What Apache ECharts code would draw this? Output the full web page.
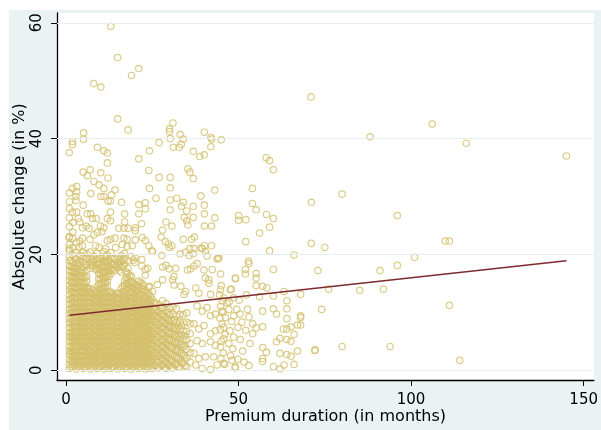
<!DOCTYPE html>
<html><head><meta charset="utf-8">
<script src="https://cdn.jsdelivr.net/npm/echarts@6/dist/echarts.min.js"></script>
<style>html,body{margin:0;padding:0;background:#fff}#c{width:601px;height:430px}</style>
</head><body><div id="c"></div>
<script>
// Tick labels
const xTicks = [0, 50, 100, 150];
const yTicks = [0, 20, 40, 60];
// Dense mass: premium duration (months) and absolute changes read column by column
const denseMonths = [1,2,3,4,5,6,7,8,9,10,11,12,13,14,15,16,17,18,19,20,21,22,23,24,25,26,27,28,29,30,31,32,33,34,35,36];
const denseChanges = [
 [0.3,1.0,1.8,2.7,3.3,4.1,5.0,5.8,6.4,7.3,8.2,8.9,9.8,10.5,11.4,12.2,13.0,13.9,14.6,15.5,16.3,17.2,18.0,18.9,19.5,20.6,21.7,23.1,24.8,26.3,27.9,29.1,30.6],
 [0.6,1.4,2.2,3.0,3.8,4.6,5.3,6.1,7.0,7.7,8.5,9.3,10.1,11.0,11.8,12.6,13.5,14.4,15.2,16.0,16.9,17.7,18.6,19.9,21.2,23.8,25.5],
 [0.2,1.1,1.9,2.6,3.5,4.3,5.1,5.9,6.7,7.4,8.3,9.0,9.9,10.7,11.5,12.3,13.2,14.1,15.0,15.8,16.6,17.5,18.4,19.2,20.4,22.0],
 [0.5,1.3,2.3,3.1,3.9,4.7,5.5,6.3,7.1,7.9,8.7,9.5,10.3,11.1,11.9,12.8,13.7,14.5,15.3,16.4,17.1,18.2,19.0,19.8,22.3],
 [0.3,1.0,1.7,2.5,3.4,4.2,5.0,5.8,6.6,7.5,8.3,9.1,9.9,10.8,11.6,12.4,13.3,14.2,15.1,15.9,16.8,17.8,18.7,19.6,20.3],
 [0.6,1.4,2.1,2.9,3.7,4.5,5.4,6.2,7.0,7.8,8.6,9.4,10.2,11.0,11.8,12.7,13.6,14.3,15.4,16.2,17.3,18.1,19.3,20.1],
 [0.2,1.0,1.8,2.6,3.4,4.3,5.1,5.9,6.7,7.6,8.4,9.2,10.0,10.8,11.7,12.5,13.4,14.1,17.6,18.6,19.4,20.4],
 [0.5,1.3,2.1,2.9,3.8,4.6,5.4,6.2,7.1,7.9,8.7,9.6,10.4,11.2,12.0,12.9,13.8,17.9,18.8,19.7],
 [0.3,1.1,1.9,2.7,3.6,4.4,5.2,6.0,6.8,7.7,8.5,9.3,10.1,11.0,11.8,12.6,13.5,14.4,17.3,18.2,19.1,20.2],
 [0.6,1.4,2.3,3.1,3.9,4.7,5.6,6.4,7.2,8.0,8.9,9.7,10.5,11.3,12.2,13.0,13.9,14.8,15.7,16.5,17.4,18.4,19.3],
 [0.2,1.0,1.8,2.6,3.5,4.3,5.1,5.9,6.8,7.6,8.4,9.2,10.1,10.9,11.7,12.5,13.4,14.3,15.1,16.0,16.9,17.8,18.7,19.6,20.5],
 [0.4,1.2,2.0,2.8,3.7,4.5,5.3,6.1,6.9,7.8,8.6,9.4,10.3,11.1,11.9,12.8,13.6,14.5,15.4,16.3,17.2,18.1,19.0,19.9],
 [0.3,1.1,1.9,2.7,3.5,4.3,5.2,6.0,6.8,7.6,8.5,9.3,10.1,10.9,11.8,12.6,13.5,16.7,17.6,18.5,19.5,20.3],
 [0.5,1.3,2.2,3.0,3.8,4.6,5.4,6.3,7.1,7.9,8.7,9.6,10.4,11.2,12.1,12.9,17.2,18.2,19.2],
 [0.2,1.0,1.8,2.6,3.4,4.2,5.1,5.9,6.7,7.5,8.3,9.2,10.0,10.8,11.6,12.4,13.3,17.7,18.6,19.4],
 [0.6,1.4,2.2,3.0,3.9,4.7,5.5,6.3,7.2,8.0,8.8,9.6,10.5,11.3,12.1,13.0,14.1,16.9,17.8,18.8,19.8],
 [0.3,1.1,1.9,2.8,3.6,4.4,5.2,6.1,6.9,7.7,8.5,9.4,10.2,11.0,11.9,12.7,13.6,14.6,15.5,18.3,19.3,20.2],
 [0.5,1.3,2.1,2.9,3.7,4.6,5.4,6.2,7.0,7.9,8.7,9.5,10.3,11.2,12.0,12.9,13.9,14.9,15.8,16.7,17.6,18.9],
 [0.2,1.0,1.9,2.7,3.5,4.3,5.1,6.0,6.8,7.6,8.4,9.3,10.1,10.9,11.8,12.6,13.6,14.4,15.3,16.2,19.6],
 [0.6,1.4,2.2,3.0,3.9,4.7,5.5,6.4,7.2,8.0,8.8,9.7,10.5,11.3,12.2,13.1,14.0,14.8,18.6,19.4],
 [0.3,1.1,1.9,2.7,3.6,4.4,5.2,6.0,6.9,7.7,8.5,9.3,10.2,11.0,11.9,12.8,13.7,14.6,15.4],
 [0.5,1.3,2.1,3.0,3.8,4.6,5.4,6.2,7.1,7.9,8.8,9.6,10.4,11.3,12.1,13.0,14.1,15.0,18.0,19.1],
 [0.2,1.1,1.9,2.7,3.5,4.4,5.2,6.0,6.9,7.7,8.5,9.4,10.2,11.0,11.8,12.9,13.8,16.4,17.4],
 [0.4,1.3,2.1,2.9,3.8,4.6,5.4,6.3,7.1,7.9,8.8,9.6,10.4,11.3,12.1,13.2,14.3],
 [0.3,1.4,2.5,3.5,4.6,5.7,6.7,7.8,8.9,9.9,11.0,12.2],
 [0.8,1.9,3.0,4.0,5.1,6.2,7.3,8.3,9.4,10.5,11.6],
 [0.4,1.5,2.6,3.7,4.8,5.8,6.9,8.0,9.1,10.2,11.3],
 [0.9,2.0,3.1,4.2,5.3,6.4,7.5,8.6,9.7,10.8,12.0],
 [0.3,1.4,2.5,3.6,4.7,5.8,6.9,8.0,9.1,10.3,11.5],
 [0.8,1.9,3.0,4.1,5.2,6.3,7.4,8.5,9.6,10.7],
 [0.4,1.6,2.7,3.9,5.0,6.2,7.3,8.5,9.7,11.0],
 [1.0,2.2,3.4,4.6,5.8,7.0,8.2,9.4,10.6],
 [0.5,1.8,3.1,4.4,5.7,7.0,8.3,9.6],
 [1.2,2.6,4.0,5.4,6.8,8.2,9.6],
 [0.6,2.1,3.6,5.2,6.7,8.3,9.9],
 [1.4,3.0,4.6,6.3,8.0]
];
// Points lying between the month columns
const halfMonths = [1.5,2.5,3.5,4.5,5.5,6.5,7.5,8.5,9.5,10.5,11.5,12.5,13.5,14.5,15.5,16.5,17.5,18.5,19.5,20.5,21.5,22.5,23.5,24.5,25.5,26.5,27.5,28.5,29.5,30.5,31.5,32.5,33.5,34.5];
const halfChanges = [
 [0.6,1.5,2.4,3.2,4.0,4.9,5.7,6.5,7.4,8.2,9.0,9.9,10.7,11.6,12.4,13.4,14.2,15.1,16.0,17.0,17.9,19.0],
 [0.8,1.6,2.5,3.3,4.1,5.0,5.8,6.6,7.5,8.3,9.2,10.0,10.8,11.7,12.5,13.4,14.3,15.2,16.2,17.1,18.0],
 [0.7,1.5,2.4,3.2,4.1,4.9,5.7,6.6,7.4,8.3,9.1,9.9,10.8,11.6,12.5,13.3,14.2,15.2,16.1,17.0,18.6],
 [0.8,1.7,2.5,3.4,4.2,5.0,5.9,6.7,7.6,8.4,9.2,10.1,10.9,11.8,12.6,13.5,14.4,15.3,16.3,17.4],
 [0.6,1.5,2.3,3.2,4.0,4.8,5.7,6.5,7.3,8.2,9.0,9.8,10.7,11.5,12.4,13.2,14.1,15.0,16.1,18.3],
 [0.9,1.7,2.6,3.4,4.2,5.1,5.9,6.7,7.6,8.4,9.2,10.1,10.9,11.7,12.6,13.4,14.0],
 [0.7,1.5,2.4,3.2,4.0,4.9,5.7,6.5,7.4,8.2,9.0,9.9,10.7,11.5,12.4,13.2,18.2,19.1],
 [0.8,1.6,2.5,3.3,4.1,5.0,5.8,6.7,7.5,8.3,9.2,10.0,10.8,11.7,12.5,13.3,17.5],
 [0.6,1.4,2.3,3.1,4.0,4.8,5.6,6.5,7.3,8.1,9.0,9.8,10.6,11.5,12.3,13.1,14.0,14.9,15.8,16.7,17.7,18.7],
 [0.8,1.7,2.5,3.3,4.2,5.0,5.8,6.7,7.5,8.4,9.2,10.0,10.9,11.7,12.5,13.4,14.2,15.2,16.1,17.1,18.0,19.0],
 [0.7,1.5,2.4,3.2,4.1,4.9,5.7,6.6,7.4,8.2,9.1,9.9,10.7,11.6,12.4,13.2,14.1,15.0,15.9,16.8,17.7,18.6,19.5],
 [0.9,1.7,2.5,3.4,4.2,5.1,5.9,6.7,7.6,8.4,9.2,10.1,10.9,11.8,12.6,13.4,16.2,17.1,18.0,19.0],
 [0.6,1.5,2.3,3.1,4.0,4.8,5.6,6.5,7.3,8.2,9.0,9.8,10.7,11.5,12.3,13.2,17.4,18.3],
 [0.8,1.6,2.5,3.3,4.1,5.0,5.8,6.6,7.5,8.3,9.1,10.0,10.8,11.6,12.5,13.3,17.9],
 [0.7,1.5,2.3,3.2,4.0,4.9,5.7,6.5,7.4,8.2,9.0,9.9,10.7,11.5,12.4,13.3,17.2,18.2,19.1],
 [0.9,1.7,2.6,3.4,4.2,5.1,5.9,6.7,7.6,8.4,9.3,10.1,10.9,11.8,12.6,13.5,14.5,18.0,19.0],
 [0.6,1.4,2.3,3.1,3.9,4.8,5.6,6.4,7.3,8.1,9.0,9.8,10.6,11.5,12.3,13.2,14.1,15.0,16.0,17.0],
 [0.8,1.6,2.5,3.3,4.2,5.0,5.8,6.7,7.5,8.3,9.2,10.0,10.8,11.7,12.5,13.4,14.4,15.3,16.3],
 [0.7,1.5,2.4,3.2,4.0,4.9,5.7,6.5,7.4,8.2,9.1,9.9,10.7,11.6,12.4,13.2,14.1,15.0,19.0],
 [0.9,1.7,2.6,3.4,4.2,5.1,5.9,6.8,7.6,8.4,9.3,10.1,10.9,11.8,12.6,13.5,14.4],
 [0.6,1.4,2.3,3.1,3.9,4.8,5.6,6.4,7.3,8.1,9.0,9.8,10.6,11.5,12.3,13.2,14.2,15.2],
 [0.8,1.6,2.5,3.3,4.1,5.0,5.8,6.6,7.5,8.3,9.1,10.0,10.8,11.7,12.5,13.5,14.6],
 [0.7,1.5,2.3,3.2,4.0,4.8,5.7,6.5,7.3,8.2,9.0,9.9,10.7,11.5,12.4,13.3],
 [0.9,1.8,2.6,3.5,4.3,5.2,6.0,6.8,7.7,8.5,9.3,10.2,11.0,11.9,12.7],
 [0.9,2.0,3.0,4.1,5.2,6.2,7.3,8.4,9.4,10.5,11.6],
 [0.4,1.4,2.5,3.6,4.6,5.7,6.8,7.8,8.9,10.0],
 [0.9,2.0,3.1,4.2,5.3,6.4,7.4,8.5,9.6,10.7],
 [0.5,1.6,2.7,3.8,4.9,6.0,7.1,8.2,9.3],
 [1.0,2.1,3.2,4.3,5.4,6.5,7.6,8.7,9.9],
 [0.4,1.6,2.8,4.0,5.2,6.4,7.6,8.8],
 [1.0,2.3,3.5,4.8,6.1,7.4,8.7],
 [0.6,2.0,3.4,4.8,6.2,7.6],
 [1.3,2.9,4.5,6.1,7.7],
 [0.8,2.5,4.2,5.9]
];
// Individually read points [duration, change]
const sparsePoints = [
 [13.0,59.4],[15.0,54.0],[21.1,52.1],[19.0,50.9],[8.05,49.5],[10.1,48.9],[15.0,43.4],[18.0,41.5],[5.1,41.0],
 [31.0,42.7],[30.0,41.7],[30.0,41.2],[33.1,40.7],[40.1,41.1],[42.0,40.2],[45.0,39.8],[71.0,47.2],[106.1,42.5],
 [88.1,40.3],[116.0,39.2],[145.0,37.0],[58.0,36.7],[59.0,36.2],[60.1,34.6],[54.0,31.4],[80.0,30.4],[71.1,29.0],
 [54.0,28.8],[55.1,27.7],[50.0,26.7],[50.0,25.9],[52.1,26.0],[58.1,26.9],[60.1,26.2],[59.0,24.7],[56.1,23.7],
 [96.0,26.7],[52.1,22.2],[71.1,21.9],[75.0,21.2],[109.9,22.3],[111.1,22.3],[59.0,20.6],[66.1,19.9],[101.0,19.5],
 [44.3,19.4],[52.9,18.8],
 [0.95,37.6],[1.9,39.0],[1.9,39.5],[5.1,39.9],[9.1,38.5],[11.0,37.9],[12.0,37.5],[12.0,35.8],[5.0,34.2],[6.2,33.6],
 [7.0,34.6],[10.1,34.1],[12.2,33.2],[8.1,32.6],[9.6,32.0],[11.0,31.4],[1.9,31.4],[3.1,31.7],[3.1,30.8],[2.9,30.0],
 [2.9,29.3],[7.2,30.5],[10.1,30.0],[11.0,30.0],[13.2,30.3],[14.2,31.1],[12.2,29.2],[12.9,29.2],[16.1,29.0],[5.0,28.5],
 [1.9,27.3],[3.1,27.3],[6.2,27.0],[7.2,27.0],[12.9,27.3],[17.0,27.0],[3.6,26.2],[4.0,25.6],[7.7,26.2],[8.8,26.2],
 [12.0,26.2],[12.9,25.8],[17.0,25.6],[4.8,24.6],[5.9,24.9],[6.7,24.5],[10.0,24.9],[11.0,24.6],[10.4,23.9],[15.3,24.5],
 [16.8,24.5],[18.0,24.5],[20.1,24.6],[20.1,24.1],[0.9,22.9],[1.9,22.8],[4.8,22.8],[7.0,22.6],[8.1,23.4],[9.1,23.8],
 [12.0,22.4],[12.9,22.6],[14.2,22.8],[16.8,22.8],[17.7,22.6],[20.1,22.5],[22.1,22.9],[24.9,20.6],[0.95,21.0],[3.8,21.2],
 [4.8,21.5],[8.6,21.5],[9.6,21.2],[11.5,21.0],[14.4,21.2],[16.3,21.7],[17.7,21.4],[19.2,21.5],[23.0,22.4],[24.0,21.5],
 [21.1,36.5],[24.2,37.9],[27.0,39.3],[30.2,40.0],[31.1,38.5],[32.8,38.5],[33.4,39.0],[34.0,39.9],[36.9,37.8],
 [40.1,37.2],[42.0,38.6],[42.2,39.9],[38.8,36.9],[24.0,34.5],[27.0,33.3],[30.2,33.3],[35.3,34.8],[35.9,34.2],[36.9,33.1],
 [24.2,31.4],[26.1,29.7],[30.2,31.5],[30.2,29.4],[30.2,27.7],[32.1,29.7],[34.0,29.0],[39.1,30.1],[40.1,28.5],[43.1,31.1],
 [21.1,28.6],[23.0,28.9],[23.0,27.9],[21.1,27.0],[33.5,28.3],[35.0,27.5],[36.9,28.3],[36.9,26.4],[40.1,27.0],[43.1,26.3],
 [34.3,26.4],[35.0,25.8],[35.3,25.1],[29.0,25.6],[28.0,24.2],[30.7,24.9],[40.1,24.9],[42.2,24.9],[21.9,25.3],[27.6,23.0],
 [28.8,22.2],[29.7,21.8],[30.7,21.5],[34.0,22.6],[36.4,22.6],[37.2,23.0],[39.1,21.1],[40.1,21.5],[42.2,21.5],[33.1,20.1],
 [35.9,21.0],[36.9,20.1],[44.1,19.3],[27.8,19.8],
 [25.1,20.5],[30.0,21.2],[34.7,20.4],[35.7,19.8],[37.1,21.0],[39.5,21.0],[40.4,20.5],[40.9,19.7],[43.8,19.2],[23.7,17.6],
 [28.0,17.8],[29.0,18.1],[29.9,17.5],[31.8,17.6],[31.3,16.2],[30.9,15.6],[31.3,14.7],[28.0,15.6],[26.5,14.8],[24.2,14.5],
 [25.1,13.6],[35.2,17.3],[36.1,17.5],[37.1,18.0],[38.0,18.4],[40.0,17.3],[42.4,17.4],[44.8,16.6],[40.4,15.9],[41.4,15.6],
 [41.4,15.0],[49.1,15.9],[33.3,14.5],[34.7,13.6],[34.2,13.1],[37.6,14.2],[38.5,13.3],[41.9,13.1],[44.8,13.9],[47.6,13.9],
 [45.7,12.5],[48.6,12.5],[46.7,11.6],
 [38.0,11.1],[39.5,10.2],[40.9,10.8],[41.9,9.4],[43.3,9.7],[45.2,10.2],[46.2,9.1],[47.2,10.5],[48.6,9.4],[49.5,10.5],
 [37.1,8.0],[38.5,7.1],[40.0,7.7],[41.9,6.3],[43.3,6.8],[45.7,7.4],[38.0,5.1],[39.5,4.6],[41.9,4.9],[43.3,4.3],
 [45.7,5.4],[47.2,4.6],[48.6,5.7],[37.1,2.9],[38.5,2.0],[40.4,2.3],[42.8,2.3],[43.8,0.9],[45.7,1.2],[48.1,1.7],
 [49.1,0.6],[37.6,0.9],[39.5,0.3],[41.9,0.1],
 [53.0,18.4],[52.0,17.4],[52.0,16.6],[55.1,16.7],[55.1,15.9],[60.1,17.4],[73.0,17.2],[91.0,17.2],[96.0,18.1],[49.1,15.8],
 [45.0,14.6],[47.9,14.0],[55.1,14.6],[57.0,14.5],[58.2,14.2],[63.2,13.6],[68.0,13.1],[76.1,14.0],[85.1,13.8],[92.0,14.0],
 [111.1,11.2],[74.1,10.5],[60.1,12.8],[56.1,12.7],[64.0,12.0],[60.1,10.6],[64.0,10.6],[57.0,10.2],[61.0,9.7],[64.0,8.9],
 [68.0,9.4],[68.0,9.1],[67.1,7.8],[68.0,7.8],[65.2,7.5],[64.0,7.1],[63.0,7.1],[66.1,6.2],[62.0,5.5],[61.0,4.9],
 [64.0,5.3],[65.2,5.0],[57.0,7.5],[54.1,8.0],[54.1,6.3],[55.1,7.3],[72.1,3.4],[72.2,3.5],[80.0,4.1],[93.9,4.1],
 [114.1,1.7],[57.0,3.9],[58.1,3.1],[57.0,2.0],[57.0,1.5],[62.0,2.9],[64.0,2.7],[65.2,2.4],[67.1,3.3],[60.1,0.6],
 [62.0,0.2],[63.2,0.9],[66.1,1.0],
 [44.5,13.0],[45.3,12.0],[44.8,11.0],[45.5,10.0],[44.6,9.0],[45.2,8.0],[44.7,7.0],[46.1,6.2],[45.0,5.0],[44.8,4.0],
 [45.6,3.0],[44.9,2.0],[46.0,1.0],[47.3,11.8],[48.0,8.4],[47.5,6.8],[48.3,3.7],[47.7,2.5],[50.2,12.1],[50.4,9.7],
 [51.0,8.3],[49.8,7.4],[50.5,5.3],[51.2,3.3],[49.8,1.9],[52.3,13.0],[52.6,10.5],[53.0,9.2],[52.1,6.9],[53.3,4.6],
 [51.6,1.4],[49.0,0.4],[53.0,0.8]
];
// Fitted line endpoints
const fitLine = [[1, 9.5], [145, 18.9]];

const scatterData = [];
denseMonths.forEach((m, i) => denseChanges[i].forEach(v => scatterData.push([m, v])));
halfMonths.forEach((m, i) => halfChanges[i].forEach(v => scatterData.push([m, v])));
sparsePoints.forEach(p => scatterData.push(p));

const FONT = 'DejaVu Sans';
const chart = echarts.init(document.getElementById('c'), null, {renderer: 'canvas'});
chart.setOption({
  animation: false,
  backgroundColor: '#ffffff',
  graphic: [{type: 'rect', z: -100, silent: true, shape: {x: 9, y: 10, width: 592, height: 420}, style: {fill: '#eaf2f3'}}],
  grid: {left: 57, top: 13, right: 3, bottom: 43, show: true, backgroundColor: '#ffffff', borderWidth: 0},
  xAxis: {
    type: 'value', min: -2.59, max: 152.96,
    axisLine: {onZero: false, lineStyle: {color: '#000', width: 1.3}},
    axisTick: {customValues: xTicks, length: 6, lineStyle: {color: '#000', width: 1}},
    axisLabel: {customValues: xTicks, fontSize: 15, color: '#000', fontFamily: FONT, margin: 13},
    splitLine: {show: false},
    name: 'Premium duration (in months)', nameLocation: 'middle', nameGap: 29, nameMoveOverlap: false,
    nameTextStyle: {fontSize: 16, color: '#000', fontFamily: FONT}
  },
  yAxis: {
    type: 'value', min: -1.695, max: 61.69,
    axisLine: {onZero: false, lineStyle: {color: '#000', width: 1.3}},
    axisTick: {customValues: yTicks, length: 6, lineStyle: {color: '#000', width: 1}},
    axisLabel: {customValues: yTicks, rotate: 90, fontSize: 15, color: '#000', fontFamily: FONT, margin: 12},
    splitLine: {show: false},
    name: 'Absolute change (in %)', nameLocation: 'middle', nameGap: 29, nameMoveOverlap: false,
    nameTextStyle: {fontSize: 16, color: '#000', fontFamily: FONT}
  },
  series: [
    {type: 'line', data: [], z: 1, silent: true,
     markLine: {silent: true, symbol: ['none', 'none'], label: {show: false},
       lineStyle: {color: '#e6eeef', type: 'solid', width: 1.2},
       data: yTicks.map(v => ({yAxis: v}))}},
    {type: 'scatter', data: scatterData, z: 3, symbol: 'circle', symbolSize: 6.4, silent: true,
     itemStyle: {color: 'rgba(0,0,0,0)', borderColor: '#d3bf6a', borderWidth: 1.2}},
    {type: 'line', data: fitLine, z: 4, showSymbol: false, silent: true,
     lineStyle: {color: '#7d2a2e', width: 1.4}}
  ]
});
</script></body></html>
